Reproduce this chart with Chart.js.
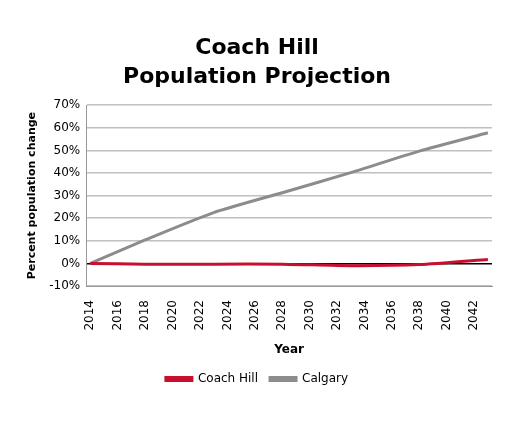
<!DOCTYPE html>
<html><head><meta charset="utf-8">
<script src="https://cdn.jsdelivr.net/npm/chart.js@4"></script>
<style>html,body{margin:0;background:#fff}#wrap{width:509px;height:425px}</style>
</head><body><div id="wrap"><canvas id="c"></canvas></div>
<script>
const years = [2014, 2018, 2023, 2028, 2033, 2038, 2043];
const coachHill = [0, -0.3, -0.3, -0.3, -1.0, -0.5, 1.8];
const calgary = [0, 10.4, 22.5, 31.3, 40.2, 49.7, 57.8];
const yearTicks = [2014, 2016, 2018, 2020, 2022, 2024, 2026, 2028, 2030, 2032, 2034, 2036, 2038, 2040, 2042];

Chart.defaults.font.family = 'DejaVu Sans';
Chart.defaults.color = '#000';

new Chart(document.getElementById('c'), {
  type: 'line',
  data: {
    datasets: [
      { label: 'Coach Hill', data: years.map((y, i) => ({x: y, y: coachHill[i]})),
        borderColor: '#c8102e', backgroundColor: '#c8102e', borderWidth: 3, pointRadius: 0, tension: 0.2 },
      { label: 'Calgary', data: years.map((y, i) => ({x: y, y: calgary[i]})),
        borderColor: '#8c8c8c', backgroundColor: '#8c8c8c', borderWidth: 3, pointRadius: 0, tension: 0.2 }
    ]
  },
  options: {
    responsive: true, maintainAspectRatio: false, animation: false,
    layout: { padding: { left: 22, right: 17, top: 34, bottom: 30 } },
    plugins: {
      title: { display: true, text: ['Coach Hill', 'Population Projection'],
        font: { size: 22, weight: 'bold', lineHeight: 1.3 }, padding: { bottom: 14 } },
      legend: { position: 'bottom', labels: { boxWidth: 26, boxHeight: 3, font: { size: 12 }, padding: 12 } }
    },
    scales: {
      x: { type: 'linear', min: 2013.7, max: 2043.3,
        afterBuildTicks: s => { s.ticks = yearTicks.map(v => ({value: v})); },
        ticks: { maxRotation: 90, minRotation: 90, font: { size: 12 }, padding: 6, callback: v => String(v) },
        grid: { display: false },
        border: { color: '#999' },
        title: { display: true, text: 'Year', font: { size: 12, weight: 'bold' }, padding: { top: 6 } } },
      y: { min: -10, max: 70,
        ticks: { stepSize: 10, font: { size: 12 }, padding: 6, callback: v => v + '%' },
        grid: { color: c => c.tick.value === 0 ? '#000' : '#c0c0c0', lineWidth: 1.5, drawTicks: false },
        border: { color: '#999' },
        title: { display: true, text: 'Percent population change', font: { size: 11, weight: 'bold' } } }
    }
  }
});
</script></body></html>
